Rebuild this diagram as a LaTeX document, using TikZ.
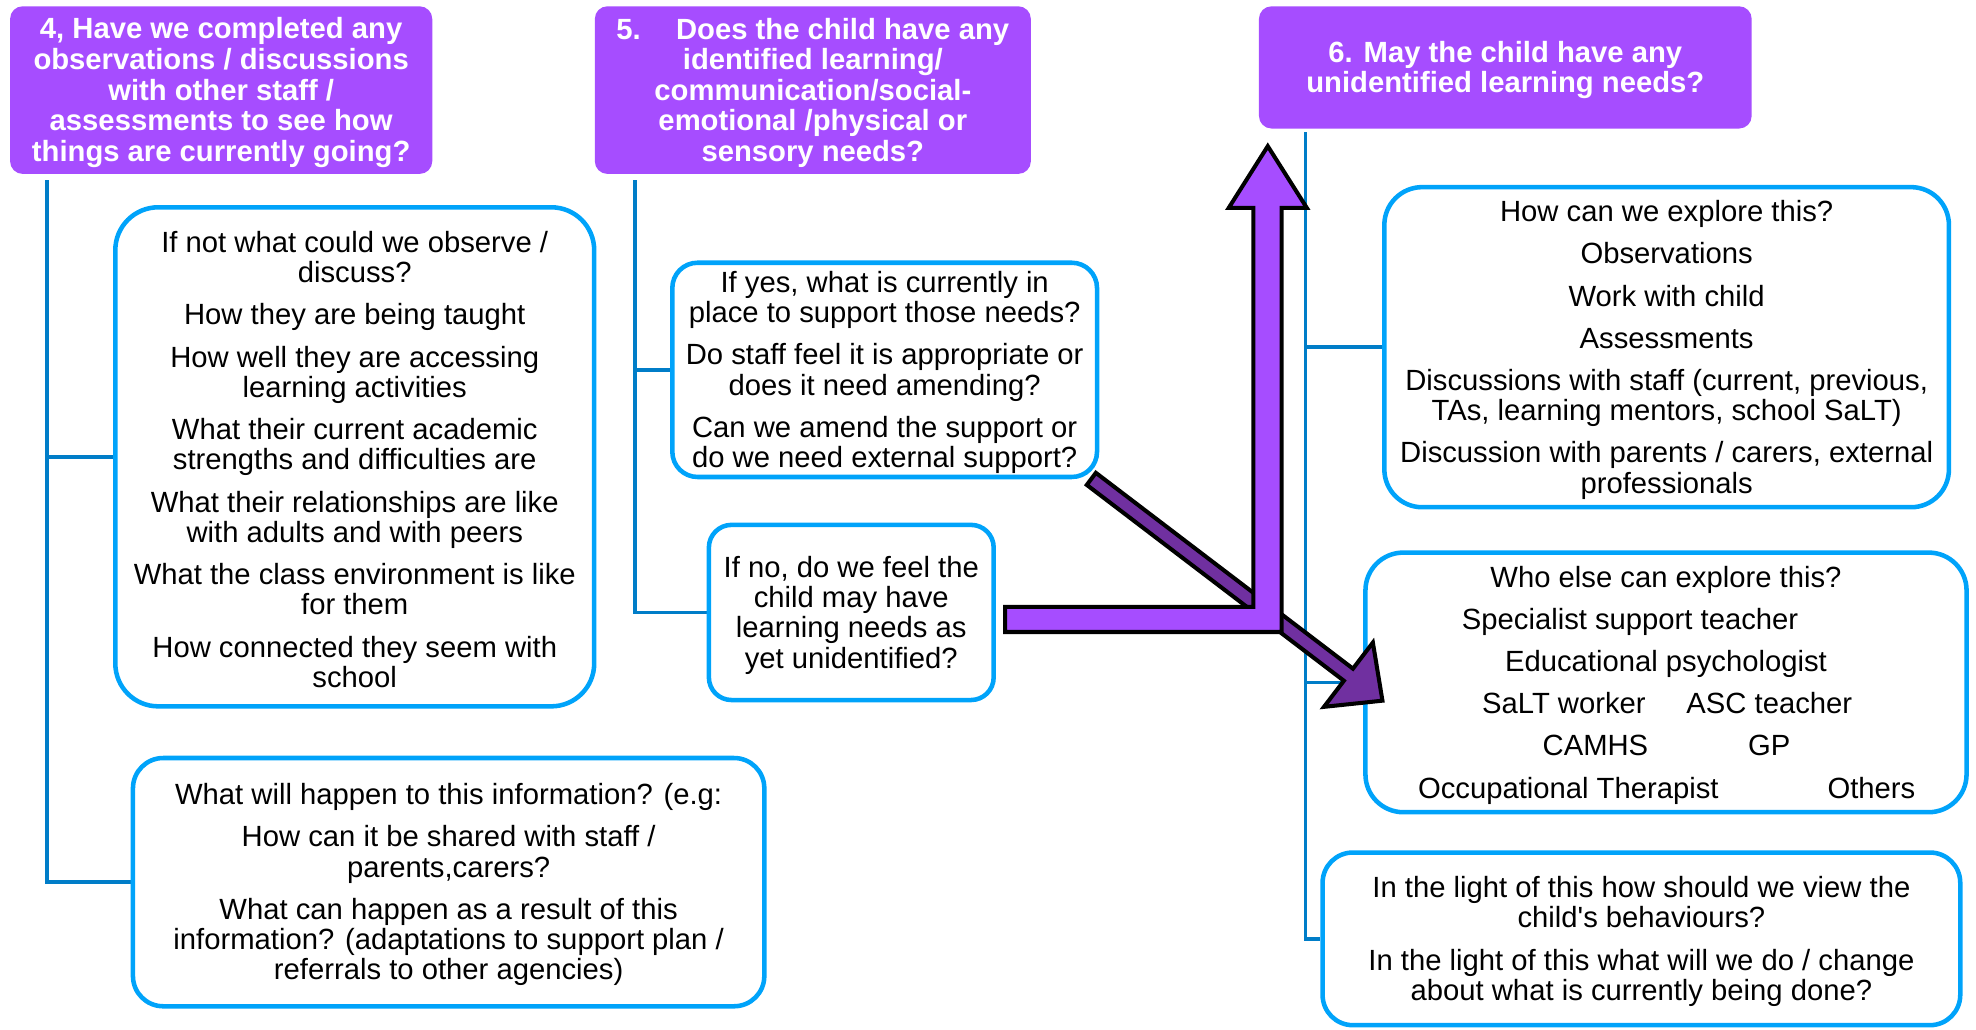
\documentclass[tikz,border=0pt]{standalone}
\usepackage{fontspec}
\setmainfont{Liberation Sans}
\usetikzlibrary{backgrounds}
\definecolor{hpurple}{RGB}{166,77,255}
\definecolor{dpurple}{RGB}{112,48,160}
\definecolor{boxblue}{RGB}{0,163,250}
\definecolor{connblue}{RGB}{0,125,200}
\newcommand\cat[2]{\makebox[0pt]{\hspace*{#1}\makebox[0pt]{#2}}}
\newcommand\topstrut{\rule{0pt}{10.5pt}}
\begin{document}
\begin{tikzpicture}[x=0.5pt,y=-0.5pt,
  head/.style={fill=hpurple, rounded corners=5pt, text=white, align=center, inner sep=0pt,
    font=\fontsize{11.6}{12.15}\selectfont\bfseries},
  bbox/.style={draw=boxblue, line width=1.8pt, fill=white, align=center, inner sep=0pt,
    font=\fontsize{11.6}{12}\selectfont},
  conn/.style={draw=connblue, line width=1.5pt},
  blk/.style={draw=black, line width=1.6pt, line join=miter}]
\useasboundingbox (0,0) rectangle (1568,817);

% headers
\node[head, minimum width=167.5pt, minimum height=66.5pt] (h4) at (175.5,71.5)
  {\topstrut 4, Have we completed any\\ observations / discussions\\ with other staff /\\ assessments to see how\\ things are currently going?};
\node[head, minimum width=173pt, minimum height=66.5pt] (h5) at (645,71.5)
  {\topstrut 5.\hspace*{14pt}Does the child have any\\ identified learning/\\ communication/social-\\ emotional /physical or\\ sensory needs?};
\node[head, minimum width=195.5pt, minimum height=48.5pt] (h6) at (1194.5,53.5)
  {\topstrut 6. May the child have any\\ unidentified learning needs?};

% column 4
\node[bbox, rounded corners=17pt, minimum width=190pt, minimum height=198pt] (b4a) at (281.5,362.5)
  {\topstrut If not what could we observe /\\ discuss?\\[4.75pt]
   How they are being taught\\[4.75pt]
   How well they are accessing\\ learning activities\\[4.75pt]
   What their current academic\\ strengths and difficulties are\\[4.75pt]
   What their relationships are like\\ with adults and with peers\\[4.75pt]
   What the class environment is like\\ for them\\[4.75pt]
   How connected they seem with\\ school};
\node[bbox, rounded corners=12pt, minimum width=250.5pt, minimum height=98.5pt] (b4b) at (356,700)
  {\topstrut What will happen to this information? (e.g:\\[4.75pt]
   How can it be shared with staff /\\ parents,carers?\\[4.75pt]
   What can happen as a result of this\\ information? (adaptations to support plan /\\ referrals to other agencies)};

% column 5
\node[bbox, rounded corners=10pt, minimum width=168.5pt, minimum height=85pt] (b5a) at (702,293.5)
  {\topstrut If yes, what is currently in\\ place to support those needs?\\[4.75pt]
   Do staff feel it is appropriate or\\ does it need amending?\\[4.75pt]
   Can we amend the support or\\ do we need external support?};
\node[bbox, rounded corners=9pt, minimum width=113pt, minimum height=69.5pt] (b5b) at (675.5,486)
  {\topstrut If no, do we feel the\\ child may have\\ learning needs as\\ yet unidentified?};

% column 6
\node[bbox, rounded corners=15pt, minimum width=224pt, minimum height=127pt] (b6a) at (1322.5,275.5)
  {\topstrut How can we explore this?\\[4.75pt]
   Observations\\[4.75pt]
   Work with child\\[4.75pt]
   Assessments\\[4.75pt]
   Discussions with staff (current, previous,\\ TAs, learning mentors, school SaLT)\\[4.75pt]
   Discussion with parents / carers, external\\ professionals};
\node[bbox, rounded corners=15pt, minimum width=238.5pt, minimum height=103pt] (b6b) at (1322,541.5)
  {\topstrut\cat{0pt}{Who else can explore this?}\\[4.75pt]
   \cat{-28.5pt}{Specialist support teacher}\\[4.75pt]
   \cat{0pt}{Educational psychologist}\\[4.75pt]
   \cat{-81pt}{SaLT worker}\cat{82pt}{ASC teacher}\\[4.75pt]
   \cat{-56pt}{CAMHS}\cat{82pt}{GP}\\[4.75pt]
   \cat{-77.5pt}{Occupational Therapist}\cat{163pt}{Others}};
\node[bbox, rounded corners=12pt, minimum width=253pt, minimum height=68.5pt] (b6c) at (1302.5,745)
  {\topstrut In the light of this how should we view the\\ child\textquotesingle s behaviours?\\[4.75pt]
   In the light of this what will we do / change\\ about what is currently being done?};

% connectors
\coordinate (v4) at (37,143);
\coordinate (v5) at (504,143);
\coordinate (v6) at (1036,105);
\begin{scope}[on background layer]
  \draw[conn] (v4) |- (b4b.west);
  \draw[conn] (b4a.west) -- (b4a.west -| v4);
  \draw[conn] (v5) |- (b5b.west);
  \draw[conn] (b5a.west) -- (b5a.west -| v5);
  \draw[conn] (v6) |- (b6c.west);
  \draw[conn] (b6a.west) -- (b6a.west -| v6);
  \draw[conn] (b6b.west) -- (b6b.west -| v6);
\end{scope}

% diagonal arrow from b5a towards b6b
\draw[blk, fill=dpurple] (862.4,384.8) -- (1066.4,540.2) -- (1050.6,560.9) -- (1097,556)
  -- (1089.4,509.9) -- (1073.6,530.6) -- (869.6,375.2) -- cycle;

% L-shaped block arrow from b5b up towards h6
\draw[blk, fill=hpurple] (797.5,481.5) -- (994.5,481.5) -- (994.5,165) -- (975,165)
  -- (1006,116) -- (1037,165) -- (1017,165) -- (1017,501.5) -- (797.5,501.5) -- cycle;
\end{tikzpicture}
\end{document}
